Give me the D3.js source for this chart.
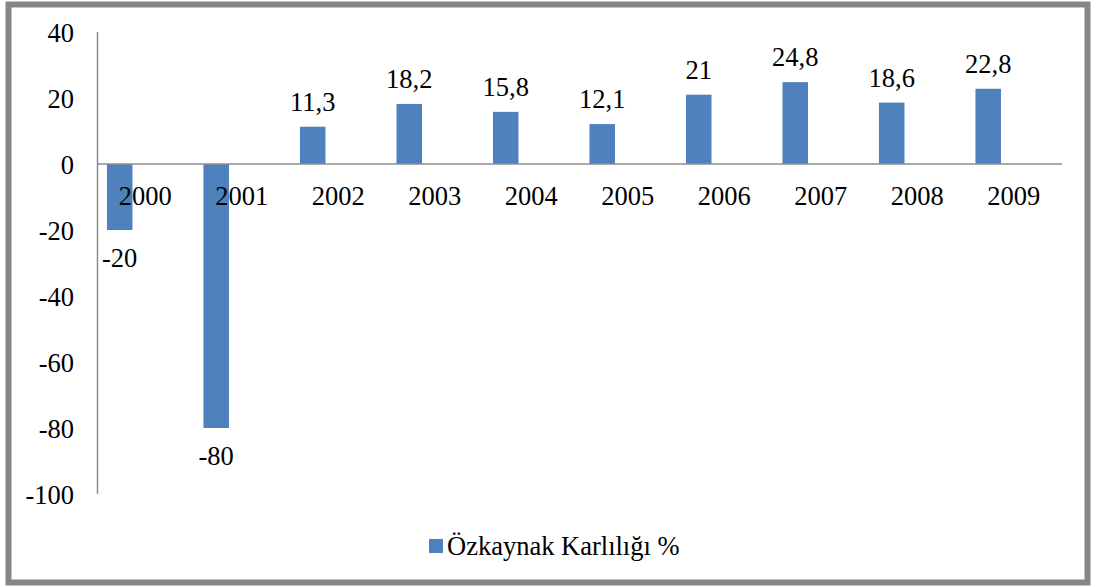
<!DOCTYPE html>
<html>
<head>
<meta charset="utf-8">
<script src="https://cdn.jsdelivr.net/npm/d3@7"></script>
<style>
  body { margin: 0; background: #fff; }
</style>
</head>
<body>
<div id="chart"></div>
<script>
// veriler
var years = ["2000", "2001", "2002", "2003", "2004", "2005", "2006", "2007", "2008", "2009"];
var values = [-20, -80, 11.3, 18.2, 15.8, 12.1, 21, 24.8, 18.6, 22.8];
var yTicks = [40, 20, 0, -20, -40, -60, -80, -100];
var seriesName = "Özkaynak Karlılığı %";
var seriesSlots = [0, 1, 2]; // excel'de 3 seriye yer ayrilmis, sadece ilki dolu

var W = 1093, H = 588;
var FONT = "'Liberation Serif', 'Times New Roman', 'DejaVu Serif', serif";
var FS = 26.5;

var svg = d3.select("#chart")
  .append("svg")
    .attr("width", W)
    .attr("height", H)
    .attr("font-family", FONT)
    .style("font-family", FONT);

// dis cerceve
svg.append("rect")
  .attr("x", 8.5).attr("y", 4.5)
  .attr("width", 1079).attr("height", 578)
  .attr("fill", "#fff")
  .attr("stroke", "#868686")
  .attr("stroke-width", 6);

var x = d3.scaleBand()
  .domain(years)
  .range([97, 1062])
  .paddingInner(0)
  .paddingOuter(0);

var xs = d3.scaleBand()
  .domain(seriesSlots)
  .range([0, x.bandwidth()])
  .paddingInner(0)
  .paddingOuter(0.39);

var y = d3.scaleLinear()
  .domain([-100, 40])
  .range([494, 32]);

// bars
svg.selectAll("rect.bar")
  .data(values)
  .enter()
  .append("rect")
  .attr("class", "bar")
  .attr("x", function(d, i) { return x(years[i]) + xs(0); })
  .attr("width", xs.bandwidth())
  .attr("y", function(d) { return y(Math.max(0, d)); })
  .attr("height", function(d) { return Math.abs(y(d) - y(0)); })
  .attr("fill", "#4F81BD");

// y ekseni
svg.append("line")
  .attr("x1", 97.5).attr("x2", 97.5)
  .attr("y1", y(40)).attr("y2", y(-100))
  .attr("stroke", "#8c8c8c")
  .attr("stroke-width", 1.5);

// sifir cizgisi
svg.append("line")
  .attr("x1", 97).attr("x2", 1062)
  .attr("y1", y(0)).attr("y2", y(0))
  .attr("stroke", "#8c8c8c")
  .attr("stroke-width", 1.5);

svg.selectAll("text.ytick")
  .data(yTicks)
  .enter()
  .append("text")
  .attr("class", "ytick")
  .attr("x", 74)
  .attr("y", function(d) { return y(d) + 10; })
  .attr("text-anchor", "end")
  .attr("font-size", FS)
  .text(function(d) { return d; });

// yil etiketleri
svg.selectAll("text.xtick")
  .data(years)
  .enter()
  .append("text")
  .attr("class", "xtick")
  .attr("x", function(d) { return x(d) + x.bandwidth() / 2; })
  .attr("y", y(0) + 41)
  .attr("text-anchor", "middle")
  .attr("font-size", FS)
  .text(function(d) { return d; });

// deger etiketleri
svg.selectAll("text.vlabel")
  .data(values)
  .enter()
  .append("text")
  .attr("class", "vlabel")
  .attr("x", function(d, i) { return x(years[i]) + xs(0) + xs.bandwidth() / 2; })
  .attr("y", function(d) { return d >= 0 ? y(d) - 16 : y(d) + 37; })
  .attr("text-anchor", "middle")
  .attr("font-size", FS)
  .text(function(d) { return String(d).replace(".", ","); });

// lejant
svg.append("rect")
  .attr("x", 429).attr("y", 539)
  .attr("width", 14).attr("height", 14)
  .attr("fill", "#4F81BD");

svg.append("text")
  .attr("x", 447)
  .attr("y", 555)
  .attr("font-size", FS)
  .text(seriesName);
</script>
</body>
</html>
